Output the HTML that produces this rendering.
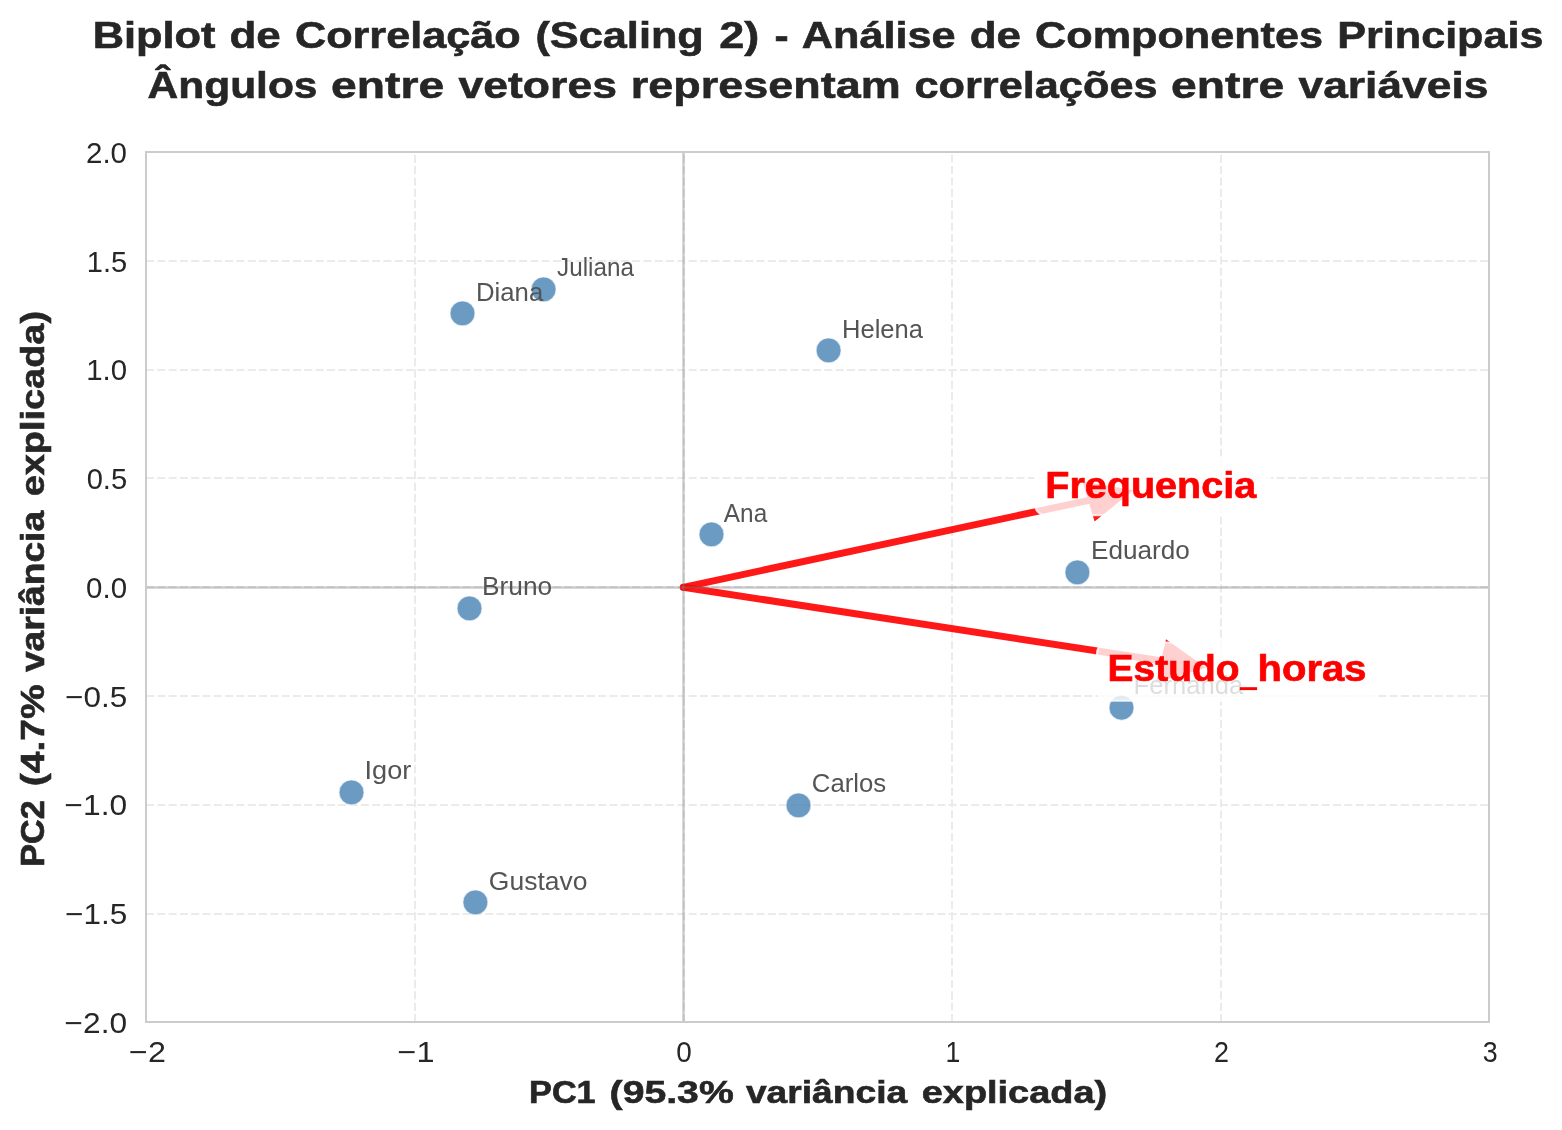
<!DOCTYPE html>
<html><head><meta charset="utf-8"><title>Biplot</title><style>html,body{margin:0;padding:0;background:#ffffff;width:1562px;height:1130px;overflow:hidden}svg{display:block;will-change:transform}text{font-family:"Liberation Sans",sans-serif;font-kerning:none;font-variant-ligatures:none}</style></head><body>
<svg width="1562" height="1130" viewBox="0 0 1562 1130">
<rect x="0" y="0" width="1562" height="1130" fill="#ffffff"/>
<line x1="415" y1="1022.0" x2="415" y2="152.0" stroke="#ebebeb" stroke-width="2" stroke-dasharray="8.05 3.255"/>
<line x1="684" y1="1022.0" x2="684" y2="152.0" stroke="#ebebeb" stroke-width="2" stroke-dasharray="8.05 3.255"/>
<line x1="952" y1="1022.0" x2="952" y2="152.0" stroke="#ebebeb" stroke-width="2" stroke-dasharray="8.05 3.255"/>
<line x1="1221" y1="1022.0" x2="1221" y2="152.0" stroke="#ebebeb" stroke-width="2" stroke-dasharray="8.05 3.255"/>
<line x1="146.0" y1="261" x2="1489.0" y2="261" stroke="#ebebeb" stroke-width="2" stroke-dasharray="8.05 3.255"/>
<line x1="146.0" y1="370" x2="1489.0" y2="370" stroke="#ebebeb" stroke-width="2" stroke-dasharray="8.05 3.255"/>
<line x1="146.0" y1="478" x2="1489.0" y2="478" stroke="#ebebeb" stroke-width="2" stroke-dasharray="8.05 3.255"/>
<line x1="146.0" y1="587" x2="1489.0" y2="587" stroke="#ebebeb" stroke-width="2" stroke-dasharray="8.05 3.255"/>
<line x1="146.0" y1="696" x2="1489.0" y2="696" stroke="#ebebeb" stroke-width="2" stroke-dasharray="8.05 3.255"/>
<line x1="146.0" y1="805" x2="1489.0" y2="805" stroke="#ebebeb" stroke-width="2" stroke-dasharray="8.05 3.255"/>
<line x1="146.0" y1="914" x2="1489.0" y2="914" stroke="#ebebeb" stroke-width="2" stroke-dasharray="8.05 3.255"/>
<circle cx="711.5" cy="534.4" r="12.45" fill="#4682b4" fill-opacity="0.8" stroke="#ffffff" stroke-opacity="0.8" stroke-width="0.8"/>
<circle cx="469.5" cy="608.4" r="12.45" fill="#4682b4" fill-opacity="0.8" stroke="#ffffff" stroke-opacity="0.8" stroke-width="0.8"/>
<circle cx="798.5" cy="805.4" r="12.45" fill="#4682b4" fill-opacity="0.8" stroke="#ffffff" stroke-opacity="0.8" stroke-width="0.8"/>
<circle cx="462.5" cy="313.4" r="12.45" fill="#4682b4" fill-opacity="0.8" stroke="#ffffff" stroke-opacity="0.8" stroke-width="0.8"/>
<circle cx="1077.4" cy="572.4" r="12.45" fill="#4682b4" fill-opacity="0.8" stroke="#ffffff" stroke-opacity="0.8" stroke-width="0.8"/>
<circle cx="1121.5" cy="707.7" r="12.45" fill="#4682b4" fill-opacity="0.8" stroke="#ffffff" stroke-opacity="0.8" stroke-width="0.8"/>
<circle cx="475.4" cy="902.35" r="12.45" fill="#4682b4" fill-opacity="0.8" stroke="#ffffff" stroke-opacity="0.8" stroke-width="0.8"/>
<circle cx="828.6" cy="350.4" r="12.45" fill="#4682b4" fill-opacity="0.8" stroke="#ffffff" stroke-opacity="0.8" stroke-width="0.8"/>
<circle cx="351.5" cy="792.4" r="12.45" fill="#4682b4" fill-opacity="0.8" stroke="#ffffff" stroke-opacity="0.8" stroke-width="0.8"/>
<circle cx="543.6" cy="289.4" r="12.45" fill="#4682b4" fill-opacity="0.8" stroke="#ffffff" stroke-opacity="0.8" stroke-width="0.8"/>
<g opacity="0.9"><line x1="683.3" y1="587.3" x2="1089.0" y2="500.3" stroke="#ff0000" stroke-width="7" stroke-linecap="round"/><polygon points="1082.4,481.2 1133.5,490.3 1094.6,521.5" fill="#ff0000"/></g>
<g opacity="0.9"><line x1="683.3" y1="587.3" x2="1161.0" y2="660.8" stroke="#ff0000" stroke-width="7" stroke-linecap="round"/><polygon points="1166.0,639.2 1206.0,667.7 1156.0,682.4" fill="#ff0000"/></g>
<line x1="146.0" y1="587.4" x2="1489.0" y2="587.4" stroke="#808080" stroke-opacity="0.4" stroke-width="2.5"/>
<line x1="683.5" y1="152.0" x2="683.5" y2="1022.0" stroke="#808080" stroke-opacity="0.4" stroke-width="2.5"/>
<rect x="146.0" y="152.0" width="1343.0" height="870.0" fill="none" stroke="#cccccc" stroke-width="2"/>
<text transform="translate(723.90,521.70) scale(0.9633,1)" x="-0.05" y="0" font-size="25.29" fill="#545454">Ana</text>
<text transform="translate(484.10,594.80) scale(1.0412,1)" x="-2.07" y="0" font-size="25.29" fill="#545454">Bruno</text>
<text transform="translate(813.10,791.60) scale(1.0186,1)" x="-1.28" y="0" font-size="25.29" fill="#545454">Carlos</text>
<text transform="translate(478.10,300.80) scale(1.0171,1)" x="-2.07" y="0" font-size="25.29" fill="#545454">Diana</text>
<text transform="translate(1093.20,558.80) scale(1.0337,1)" x="-2.07" y="0" font-size="25.29" fill="#545454">Eduardo</text>
<text transform="translate(1135.70,693.60) scale(1.0123,1)" x="-2.07" y="0" font-size="25.29" fill="#545454">Fernanda</text>
<text transform="translate(490.14,889.58) scale(1.0480,1)" x="-1.27" y="0" font-size="25.29" fill="#545454">Gustavo</text>
<text transform="translate(844.10,337.60) scale(1.0106,1)" x="-2.07" y="0" font-size="25.29" fill="#545454">Helena</text>
<text transform="translate(367.04,778.87) scale(1.0731,1)" x="-2.33" y="0" font-size="25.29" fill="#545454">Igor</text>
<text transform="translate(557.50,275.80) scale(0.9593,1)" x="-0.40" y="0" font-size="25.29" fill="#545454">Juliana</text>
<rect x="1035.0" y="457.2" width="235.0" height="58.099999999999966" rx="10.8" ry="10.8" fill="#ffffff" fill-opacity="0.8" stroke="#ffffff" stroke-opacity="0.8" stroke-width="2"/>
<text transform="translate(1047.95,497.65) scale(1.0792,1)" x="-2.45" y="0" font-size="36.63" font-weight="bold" fill="#ff0000" stroke="#ff0000" stroke-width="0.649" stroke-linejoin="miter">Frequencia</text>
<rect x="1097.0" y="642.5" width="281.0" height="58.200000000000045" rx="10.8" ry="10.8" fill="#ffffff" fill-opacity="0.8" stroke="#ffffff" stroke-opacity="0.8" stroke-width="2"/>
<text transform="translate(1110.15,681.45) scale(1.0463,1)" x="-2.49" y="0" font-size="37.21" font-weight="bold" fill="#ff0000" stroke="#ff0000" stroke-width="0.669" stroke-linejoin="miter">Estudo</text>
<text transform="translate(1260.35,681.45) scale(1.0751,1)" x="-2.60" y="0" font-size="37.21" font-weight="bold" fill="#ff0000" stroke="#ff0000" stroke-width="0.651" stroke-linejoin="miter">horas</text>
<rect x="1239.8" y="687.2" width="17.3" height="2.9" fill="#ff0000"/>
<text transform="translate(87.46,162.90) scale(1.0165,1)" x="-1.46" y="0" font-size="29.07" fill="#262626">2.0</text>
<text transform="translate(88.98,271.65) scale(0.9983,1)" x="-2.21" y="0" font-size="29.07" fill="#262626">1.5</text>
<text transform="translate(88.43,380.40) scale(1.0110,1)" x="-2.21" y="0" font-size="29.07" fill="#262626">1.0</text>
<text transform="translate(87.82,489.15) scale(1.0006,1)" x="-1.14" y="0" font-size="29.07" fill="#262626">0.5</text>
<text transform="translate(87.26,597.90) scale(1.0129,1)" x="-1.14" y="0" font-size="29.07" fill="#262626">0.0</text>
<text transform="translate(66.68,706.65) scale(1.0819,1)" x="-1.43" y="0" font-size="29.07" fill="#262626">−0.5</text>
<text transform="translate(66.12,815.40) scale(1.0904,1)" x="-1.43" y="0" font-size="29.07" fill="#262626">−1.0</text>
<text transform="translate(66.68,924.15) scale(1.0819,1)" x="-1.43" y="0" font-size="29.07" fill="#262626">−1.5</text>
<text transform="translate(66.12,1032.90) scale(1.0904,1)" x="-1.43" y="0" font-size="29.07" fill="#262626">−2.0</text>
<text transform="translate(130.60,1061.80) scale(1.1108,1)" x="-1.43" y="0" font-size="29.07" fill="#262626">−2</text>
<text transform="translate(399.10,1061.80) scale(1.1161,1)" x="-1.43" y="0" font-size="29.07" fill="#262626">−1</text>
<text transform="translate(677.40,1061.80) scale(0.9608,1)" x="-1.14" y="0" font-size="29.07" fill="#262626">0</text>
<text transform="translate(947.50,1061.80) scale(0.9177,1)" x="-2.21" y="0" font-size="29.07" fill="#262626">1</text>
<text transform="translate(1215.24,1061.80) scale(0.9262,1)" x="-1.46" y="0" font-size="29.07" fill="#262626">2</text>
<text transform="translate(1483.65,1061.80) scale(0.9228,1)" x="-1.11" y="0" font-size="29.07" fill="#262626">3</text>
<text transform="translate(531.35,1103.45) scale(1.0703,1)" x="-2.14" y="0" font-size="31.98" font-weight="bold" fill="#262626" stroke="#262626" stroke-width="0.654" stroke-linejoin="miter">PC1</text>
<text transform="translate(611.51,1103.45) scale(1.2260,1)" x="-1.59" y="0" font-size="31.98" font-weight="bold" fill="#262626" stroke="#262626" stroke-width="0.571" stroke-linejoin="miter">(95.3%</text>
<text transform="translate(746.08,1103.45) scale(1.1630,1)" x="-0.12" y="0" font-size="31.98" font-weight="bold" fill="#262626" stroke="#262626" stroke-width="0.602" stroke-linejoin="miter">variância</text>
<text transform="translate(923.19,1103.45) scale(1.1856,1)" x="-1.25" y="0" font-size="31.98" font-weight="bold" fill="#262626" stroke="#262626" stroke-width="0.590" stroke-linejoin="miter">explicada)</text>
<text transform="translate(43.55,864.45) rotate(-90) scale(1.0534,1)" x="-2.17" y="0" font-size="32.41" font-weight="bold" fill="#262626" stroke="#262626" stroke-width="0.665" stroke-linejoin="miter">PC2</text>
<text transform="translate(43.55,784.27) rotate(-90) scale(1.2039,1)" x="-1.61" y="0" font-size="32.41" font-weight="bold" fill="#262626" stroke="#262626" stroke-width="0.581" stroke-linejoin="miter">(4.7%</text>
<text transform="translate(43.55,671.98) rotate(-90) scale(1.1475,1)" x="-0.13" y="0" font-size="32.41" font-weight="bold" fill="#262626" stroke="#262626" stroke-width="0.610" stroke-linejoin="miter">variância</text>
<text transform="translate(43.55,494.84) rotate(-90) scale(1.1698,1)" x="-1.27" y="0" font-size="32.41" font-weight="bold" fill="#262626" stroke="#262626" stroke-width="0.598" stroke-linejoin="miter">explicada)</text>
<text transform="translate(95.55,48.35) scale(1.1478,1)" x="-2.53" y="0" font-size="37.79" font-weight="bold" fill="#262626" stroke="#262626" stroke-width="0.610" stroke-linejoin="miter">Biplot</text>
<text transform="translate(231.30,48.35) scale(1.1626,1)" x="-1.55" y="0" font-size="37.79" font-weight="bold" fill="#262626" stroke="#262626" stroke-width="0.602" stroke-linejoin="miter">de</text>
<text transform="translate(296.70,48.35) scale(1.1436,1)" x="-1.55" y="0" font-size="37.79" font-weight="bold" fill="#262626" stroke="#262626" stroke-width="0.612" stroke-linejoin="miter">Correlação</text>
<text transform="translate(537.56,48.35) scale(1.1463,1)" x="-1.88" y="0" font-size="37.79" font-weight="bold" fill="#262626" stroke="#262626" stroke-width="0.611" stroke-linejoin="miter">(Scaling</text>
<text transform="translate(720.86,48.35) scale(1.1925,1)" x="-1.31" y="0" font-size="37.79" font-weight="bold" fill="#262626" stroke="#262626" stroke-width="0.587" stroke-linejoin="miter">2)</text>
<text transform="translate(776.12,48.35) scale(1.1223,1)" x="-1.48" y="0" font-size="37.79" font-weight="bold" fill="#262626" stroke="#262626" stroke-width="0.624" stroke-linejoin="miter">-</text>
<text transform="translate(802.80,48.35) scale(1.1452,1)" x="-0.94" y="0" font-size="37.79" font-weight="bold" fill="#262626" stroke="#262626" stroke-width="0.611" stroke-linejoin="miter">Análise</text>
<text transform="translate(971.44,48.35) scale(1.1626,1)" x="-1.55" y="0" font-size="37.79" font-weight="bold" fill="#262626" stroke="#262626" stroke-width="0.602" stroke-linejoin="miter">de</text>
<text transform="translate(1036.84,48.35) scale(1.1429,1)" x="-1.55" y="0" font-size="37.79" font-weight="bold" fill="#262626" stroke="#262626" stroke-width="0.612" stroke-linejoin="miter">Componentes</text>
<text transform="translate(1340.20,48.35) scale(1.1410,1)" x="-2.53" y="0" font-size="37.79" font-weight="bold" fill="#262626" stroke="#262626" stroke-width="0.613" stroke-linejoin="miter">Principais</text>
<text transform="translate(148.65,98.35) scale(1.1243,1)" x="-0.94" y="0" font-size="37.79" font-weight="bold" fill="#262626" stroke="#262626" stroke-width="0.623" stroke-linejoin="miter">Ângulos</text>
<text transform="translate(332.90,98.35) scale(1.2233,1)" x="-1.48" y="0" font-size="37.79" font-weight="bold" fill="#262626" stroke="#262626" stroke-width="0.572" stroke-linejoin="miter">entre</text>
<text transform="translate(458.71,98.35) scale(1.1783,1)" x="-0.15" y="0" font-size="37.79" font-weight="bold" fill="#262626" stroke="#262626" stroke-width="0.594" stroke-linejoin="miter">vetores</text>
<text transform="translate(633.77,98.35) scale(1.1896,1)" x="-2.49" y="0" font-size="37.79" font-weight="bold" fill="#262626" stroke="#262626" stroke-width="0.588" stroke-linejoin="miter">representam</text>
<text transform="translate(916.19,98.35) scale(1.1456,1)" x="-1.48" y="0" font-size="37.79" font-weight="bold" fill="#262626" stroke="#262626" stroke-width="0.611" stroke-linejoin="miter">correlações</text>
<text transform="translate(1172.91,98.35) scale(1.2233,1)" x="-1.48" y="0" font-size="37.79" font-weight="bold" fill="#262626" stroke="#262626" stroke-width="0.572" stroke-linejoin="miter">entre</text>
<text transform="translate(1298.71,98.35) scale(1.1738,1)" x="-0.15" y="0" font-size="37.79" font-weight="bold" fill="#262626" stroke="#262626" stroke-width="0.596" stroke-linejoin="miter">variáveis</text>
</svg>
</body></html>
